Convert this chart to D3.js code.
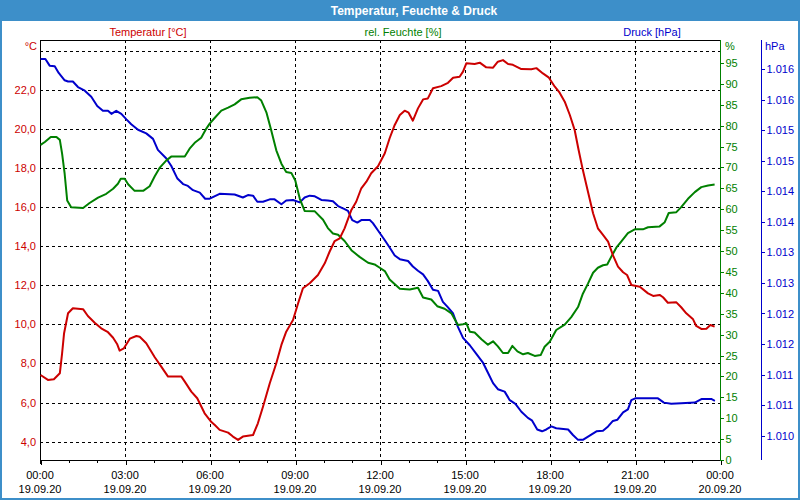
<!DOCTYPE html>
<html>
<head>
<meta charset="utf-8">
<script src="https://cdn.jsdelivr.net/npm/d3@7"></script>
<style>
  html, body { margin: 0; padding: 0; background: #fff; }
  svg { display: block; font-family: "Liberation Sans", Arial, sans-serif; }
</style>
</head>
<body>
<svg id="chart" width="800" height="500"></svg>
<script>
// ---------- DATA ----------
const chartTitle = "Temperatur, Feuchte & Druck";
const seriesNames = ["Temperatur [°C]", "rel. Feuchte [%]", "Druck [hPa]"];
const unitLabels = ["°C", "%", "hPa"];

// time in hours after 19.09.20 00:00
const tempHours = [0.02,0.28,0.49,0.70,0.78,0.85,0.99,1.16,1.52,1.69,1.93,2.16,2.40,2.58,2.72,2.81,2.96,3.17,3.40,3.52,3.75,4.05,4.28,4.52,4.99,5.11,5.34,5.55,5.81,6.05,6.17,6.34,6.64,6.81,6.99,7.16,7.52,7.69,7.87,8.11,8.34,8.52,8.69,8.93,9.11,9.28,9.52,9.81,10.05,10.22,10.40,10.58,10.75,10.99,11.16,11.34,11.52,11.69,11.93,12.17,12.34,12.52,12.70,12.87,13.01,13.16,13.34,13.52,13.69,13.87,14.16,14.40,14.58,14.81,14.93,15.05,15.34,15.52,15.75,15.99,16.16,16.34,16.52,16.69,16.99,17.34,17.52,17.75,17.95,18.17,18.34,18.52,18.70,18.87,19.01,19.16,19.34,19.52,19.69,19.87,20.05,20.22,20.40,20.58,20.72,20.87,21.17,21.46,21.64,21.87,21.99,22.16,22.46,22.63,22.81,23.05,23.16,23.34,23.52,23.66,23.81];
const tempValues = [7.41,7.16,7.19,7.50,8.52,9.55,10.57,10.83,10.78,10.43,10.09,9.80,9.60,9.32,9.00,8.66,8.78,9.27,9.41,9.37,9.04,8.32,7.84,7.33,7.33,7.07,6.56,6.22,5.45,5.00,4.85,4.60,4.46,4.26,4.09,4.26,4.34,4.94,5.79,6.99,8.01,8.95,9.63,10.23,11.08,11.85,12.11,12.53,13.13,13.72,14.27,14.41,14.92,15.86,16.28,16.97,17.31,17.74,18.10,18.76,19.53,20.21,20.72,20.94,20.84,20.43,21.06,21.52,21.57,22.09,22.20,22.37,22.63,22.68,22.94,23.37,23.33,23.40,23.16,23.14,23.45,23.53,23.33,23.29,23.07,23.06,23.12,22.85,22.65,22.17,21.86,21.40,20.72,19.95,18.93,17.90,16.79,15.69,14.92,14.58,14.24,13.55,12.96,12.67,12.53,12.02,11.93,11.59,11.46,11.51,11.39,11.11,11.13,10.88,10.57,10.26,9.92,9.77,9.78,9.97,9.89];

const humHours = [0.02,0.17,0.38,0.58,0.70,0.78,0.87,0.96,1.10,1.52,1.75,2.05,2.34,2.58,2.75,2.85,2.99,3.11,3.34,3.64,3.87,4.05,4.22,4.46,4.63,5.11,5.28,5.46,5.69,5.87,5.99,6.17,6.40,6.64,6.87,7.10,7.40,7.67,7.81,7.99,8.16,8.34,8.52,8.69,8.87,9.01,9.17,9.34,9.70,9.99,10.16,10.34,10.52,10.75,10.99,11.28,11.58,11.81,11.99,12.17,12.34,12.70,13.05,13.34,13.52,13.81,14.02,14.28,14.52,14.75,14.93,15.05,15.17,15.34,15.58,15.81,15.99,16.16,16.34,16.52,16.67,16.85,17.05,17.22,17.46,17.67,17.81,17.99,18.22,18.52,18.75,18.99,19.16,19.34,19.52,19.69,19.87,20.02,20.16,20.34,20.52,20.75,20.99,21.28,21.46,21.87,22.05,22.19,22.46,22.63,22.87,23.11,23.34,23.58,23.81];
const humValues = [75.4,76.1,77.3,77.3,76.6,73.3,68.5,62.1,60.5,60.3,61.5,62.8,63.7,64.9,66.1,67.3,67.3,66.0,64.4,64.4,65.5,67.9,69.9,71.7,72.6,72.6,74.5,75.9,77.1,79.3,80.5,81.9,83.6,84.3,85.1,86.3,86.7,86.8,86.0,83.2,78.9,74.1,70.9,68.9,68.7,66.9,62.5,59.6,59.5,57.5,55.5,54.2,53.9,52.4,50.2,48.6,47.2,46.8,46.0,45.2,43.2,41.0,40.8,41.2,38.9,38.4,36.8,36.2,35.1,32.3,32.5,32.7,30.7,30.5,28.9,27.6,28.4,27.2,25.6,25.6,27.3,26.0,25.3,25.6,24.9,25.1,27.1,28.3,31.1,32.4,34.2,36.6,39.8,42.2,44.8,46.0,46.6,46.8,48.6,50.8,52.3,54.3,55.2,55.2,55.7,55.9,56.9,59.1,59.3,60.5,62.5,64.1,65.3,65.7,65.9];

const pressHours = [0.02,0.19,0.34,0.52,0.66,0.87,0.99,1.16,1.34,1.58,1.81,2.02,2.22,2.40,2.52,2.69,2.87,3.05,3.22,3.46,3.75,3.99,4.16,4.46,4.63,4.85,5.05,5.22,5.40,5.64,5.83,5.99,6.34,6.87,7.16,7.34,7.52,7.67,7.87,8.11,8.28,8.52,8.69,8.93,9.17,9.34,9.52,9.70,9.93,10.16,10.34,10.52,10.75,10.87,11.02,11.20,11.34,11.64,11.75,11.93,12.17,12.34,12.52,12.70,12.99,13.16,13.34,13.52,13.69,13.87,14.05,14.22,14.40,14.58,14.75,14.93,15.17,15.40,15.64,15.81,15.99,16.16,16.40,16.58,16.78,16.99,17.22,17.36,17.55,17.72,17.87,18.05,18.22,18.64,18.81,18.99,19.16,19.40,19.64,19.87,20.05,20.22,20.38,20.58,20.75,20.87,21.01,21.81,22.02,22.28,22.63,23.11,23.36,23.69,23.82];
const pressValues = [1016.17,1016.17,1016.06,1016.05,1015.94,1015.82,1015.80,1015.80,1015.71,1015.65,1015.55,1015.40,1015.32,1015.32,1015.27,1015.32,1015.27,1015.18,1015.10,1015.01,1014.95,1014.86,1014.68,1014.54,1014.42,1014.21,1014.12,1014.09,1014.02,1013.98,1013.88,1013.88,1013.96,1013.95,1013.90,1013.94,1013.93,1013.83,1013.83,1013.87,1013.87,1013.79,1013.85,1013.86,1013.82,1013.90,1013.93,1013.92,1013.86,1013.85,1013.84,1013.76,1013.71,1013.68,1013.53,1013.49,1013.53,1013.53,1013.48,1013.36,1013.20,1013.08,1012.95,1012.89,1012.86,1012.77,1012.70,1012.64,1012.53,1012.39,1012.37,1012.19,1012.10,1012.00,1011.78,1011.60,1011.48,1011.34,1011.19,1011.03,1010.86,1010.76,1010.72,1010.58,1010.52,1010.39,1010.29,1010.25,1010.10,1010.07,1010.10,1010.15,1010.12,1010.10,1010.01,1009.93,1009.93,1010.00,1010.07,1010.08,1010.15,1010.24,1010.26,1010.38,1010.43,1010.58,1010.61,1010.61,1010.54,1010.52,1010.53,1010.54,1010.60,1010.60,1010.57];

const tempTicks = [4, 6, 8, 10, 12, 14, 16, 18, 20, 22];
const tempTickLabels = ["4,0","6,0","8,0","10,0","12,0","14,0","16,0","18,0","20,0","22,0"];
const tempGrid = [4, 6, 8, 10, 12, 14, 16, 18, 20, 22, 24];
const humTicks = [0,5,10,15,20,25,30,35,40,45,50,55,60,65,70,75,80,85,90,95];
const pressTicks = [1010,1010.5,1011,1011.5,1012,1012.5,1013,1013.5,1014,1014.5,1015,1015.5,1016];
const pressTickLabels = ["1.010","1.011","1.011","1.012","1.012","1.013","1.013","1.014","1.014","1.015","1.015","1.016","1.016"];
const timeTicks = [0, 3, 6, 9, 12, 15, 18, 21, 24];
const timeTickLabels = ["00:00","03:00","06:00","09:00","12:00","15:00","18:00","21:00","00:00"];
const dateTickLabels = ["19.09.20","19.09.20","19.09.20","19.09.20","19.09.20","19.09.20","19.09.20","19.09.20","20.09.20"];

// ---------- LAYOUT ----------
const W = 800, H = 500;
const L = 40, R = 720, T = 40, B = 460;
const colTemp = "#cc0000", colHum = "#008000", colPress = "#0000cc";
const frameCol = "#3d8fc9";

const svg = d3.select("#chart");

// frame + title bar
svg.append("rect").attr("x", 0).attr("y", 0).attr("width", W).attr("height", H).attr("fill", "#fff");
svg.append("rect").attr("x", 0).attr("y", 0).attr("width", W).attr("height", 21).attr("fill", frameCol);
svg.append("rect").attr("x", 1).attr("y", 1).attr("width", W - 2).attr("height", H - 2)
   .attr("fill", "none").attr("stroke", frameCol).attr("stroke-width", 2);
svg.append("text").attr("x", 414).attr("y", 15).attr("text-anchor", "middle")
   .attr("fill", "#fff").attr("font-weight", "bold").attr("font-size", 12).text(chartTitle);

// scales
const x = d3.scaleLinear().domain([0, 24]).range([L, R]);
const yT = d3.scaleLinear().domain([3.06, 24.56]).range([B, T]);
const yH = d3.scaleLinear().domain([0, 100.5]).range([B, T]);
const yP = d3.scaleLinear().domain([1009.6, 1016.48]).range([B, T]);

// grid
const grid = svg.append("g").attr("shape-rendering", "crispEdges")
  .attr("stroke", "#000").attr("stroke-width", 1).attr("stroke-dasharray", "3,3");
grid.selectAll("line.h").data(tempGrid).join("line")
  .attr("x1", L).attr("x2", R)
  .attr("y1", d => Math.round(yT(d)) + 0.5).attr("y2", d => Math.round(yT(d)) + 0.5);
grid.selectAll("line.v").data(timeTicks.slice(1, -1)).join("line")
  .attr("y1", T).attr("y2", B)
  .attr("x1", d => Math.round(x(d)) + 0.5).attr("x2", d => Math.round(x(d)) + 0.5);

// frame lines (top, left, bottom)
const fr = svg.append("g").attr("shape-rendering", "crispEdges").attr("stroke-width", 1);
fr.append("line").attr("x1", L).attr("x2", R).attr("y1", T + 0.5).attr("y2", T + 0.5).attr("stroke", "#000");
fr.append("line").attr("x1", L + 0.5).attr("x2", L + 0.5).attr("y1", T).attr("y2", B + 4).attr("stroke", "#000");
fr.append("line").attr("x1", L).attr("x2", R).attr("y1", B + 0.5).attr("y2", B + 0.5).attr("stroke", "#000");

// bottom axis via d3
const xAxis = d3.axisBottom(x).tickValues(d3.range(0, 25, 1))
  .tickSize(0).tickFormat("");
const gx = svg.append("g").attr("transform", `translate(0,${B})`).attr("shape-rendering", "crispEdges").call(xAxis);
gx.select(".domain").remove();
gx.selectAll(".tick").append("line")
  .attr("x1", 0.5).attr("x2", 0.5).attr("y1", 0)
  .attr("y2", d => d % 3 === 0 ? 5 : 3).attr("stroke", "#000");
const xl = svg.append("g").attr("font-size", 11).attr("fill", "#000").attr("text-anchor", "middle");
timeTicks.forEach((t, i) => {
  xl.append("text").attr("x", x(t)).attr("y", 479).text(timeTickLabels[i]);
  xl.append("text").attr("x", x(t)).attr("y", 493).text(dateTickLabels[i]);
});

// left axis labels (temperature)
const yl = svg.append("g").attr("font-size", 11).attr("fill", colTemp).attr("text-anchor", "end");
tempTicks.forEach((t, i) => {
  yl.append("text").attr("x", 36).attr("y", yT(t) + 4).text(tempTickLabels[i]);
});
svg.append("text").attr("x", 37).attr("y", 50).attr("text-anchor", "end")
   .attr("font-size", 11).attr("fill", colTemp).text(unitLabels[0]);

// humidity axis (right, green)
const hAxis = d3.axisRight(yH).tickValues(humTicks).tickSize(3).tickPadding(2).tickFormat(d => d);
const gh = svg.append("g").attr("transform", `translate(${R + 0.5},0)`).attr("shape-rendering", "crispEdges").call(hAxis);
gh.select(".domain").attr("stroke", colHum).attr("d", `M0,${T}V${B + 1}`);
gh.selectAll(".tick line").attr("stroke", colHum);
gh.selectAll(".tick text").attr("fill", colHum).attr("font-size", 11)
  .attr("font-family", "Liberation Sans, Arial, sans-serif");
svg.append("text").attr("x", 725).attr("y", 50).attr("font-size", 11).attr("fill", colHum).text(unitLabels[1]);

// pressure axis (far right, blue)
const pAxis = d3.axisRight(yP).tickValues(pressTicks).tickSize(3).tickPadding(2)
  .tickFormat((d, i) => pressTickLabels[i]);
const gp = svg.append("g").attr("transform", `translate(761.5,0)`).attr("shape-rendering", "crispEdges").call(pAxis);
gp.select(".domain").attr("stroke", colPress).attr("d", `M0,${T}V${B}`);
gp.selectAll(".tick line").attr("stroke", colPress);
gp.selectAll(".tick text").attr("fill", colPress).attr("font-size", 11)
  .attr("font-family", "Liberation Sans, Arial, sans-serif");
svg.append("text").attr("x", 765).attr("y", 50).attr("font-size", 11).attr("fill", colPress).text(unitLabels[2]);

// legend-like series names
const leg = svg.append("g").attr("font-size", 11).attr("text-anchor", "middle");
leg.append("text").attr("x", 148).attr("y", 36).attr("fill", colTemp).text(seriesNames[0]);
leg.append("text").attr("x", 403).attr("y", 36).attr("fill", colHum).text(seriesNames[1]);
leg.append("text").attr("x", 652).attr("y", 36).attr("fill", colPress).text(seriesNames[2]);

// lines
function drawLine(hours, vals, yScale, col) {
  const pts = hours.map((h, i) => [h, vals[i]]);
  svg.append("path").datum(pts)
    .attr("fill", "none").attr("stroke", col).attr("stroke-width", 2)
    .attr("stroke-linejoin", "round")
    .attr("d", d3.line().x(d => x(d[0])).y(d => yScale(d[1])));
}
drawLine(pressHours, pressValues, yP, colPress);
drawLine(humHours, humValues, yH, colHum);
drawLine(tempHours, tempValues, yT, colTemp);
</script>
</body>
</html>
